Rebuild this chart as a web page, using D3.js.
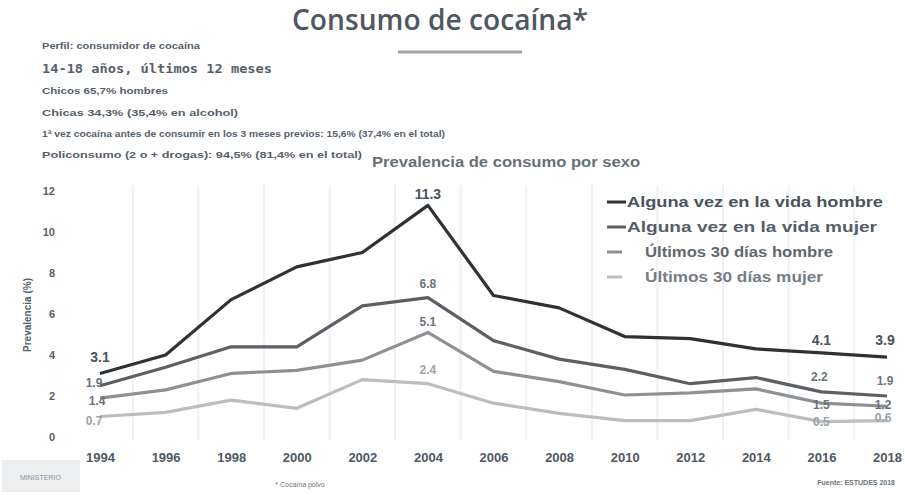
<!DOCTYPE html>
<html><head><meta charset="utf-8">
<script src="https://cdn.jsdelivr.net/npm/d3@7"></script>
<style>body{margin:0;background:#fff}svg{display:block}</style>
</head><body>
<svg id="c" width="905" height="495"></svg>
<script>
const years = [1994,1996,1998,2000,2002,2004,2006,2008,2010,2012,2014,2016,2018];
const seriesNames = ["Alguna vez en la vida hombre","Alguna vez en la vida mujer","Últimos 30 días hombre","Últimos 30 días mujer"];
const vidaHombre = [3.1,4.0,6.7,8.3,9.0,11.3,6.9,6.3,4.9,4.8,4.3,4.1,3.9];
const vidaMujer  = [2.5,3.4,4.4,4.4,6.4,6.8,4.7,3.8,3.3,2.6,2.9,2.2,2.0];
const diasHombre = [1.9,2.3,3.1,3.25,3.75,5.1,3.2,2.7,2.05,2.15,2.35,1.65,1.5];
const diasMujer  = [1.0,1.2,1.8,1.4,2.8,2.6,1.65,1.15,0.8,0.8,1.35,0.75,0.8];
const yTicks = [0,2,4,6,8,10,12];
const pointLabels = [
  {s:0,year:1994,text:"3.1"},{s:1,year:1994,text:"1.9"},{s:2,year:1994,text:"1.4"},{s:3,year:1994,text:"0.7"},
  {s:0,year:2004,text:"11.3"},{s:1,year:2004,text:"6.8"},{s:2,year:2004,text:"5.1"},{s:3,year:2004,text:"2.4"},
  {s:0,year:2016,text:"4.1"},{s:1,year:2016,text:"2.2"},{s:2,year:2016,text:"1.5"},{s:3,year:2016,text:"0.5"},
  {s:0,year:2018,text:"3.9"},{s:1,year:2018,text:"1.9"},{s:2,year:2018,text:"1.2"},{s:3,year:2018,text:"0.6"}
];
const headerLines = ["Perfil: consumidor de cocaína","14-18 años, últimos 12 meses","Chicos 65,7% hombres","Chicas 34,3% (35,4% en alcohol)","1ª vez cocaína antes de consumir en los 3 meses previos: 15,6% (37,4% en el total)","Policonsumo (2 o + drogas): 94,5% (81,4% en el total)"];

const allSeries = [vidaHombre, vidaMujer, diasHombre, diasMujer];
const colors = ["#2e3236","#5b6065","#8d9196","#babdc1"];
const txtCol = "#55606b";

const svg = d3.select("#c");
const defs = svg.append("defs");
defs.append("filter").attr("id","blur").append("feGaussianBlur").attr("stdDeviation",0.7);

const x = d3.scaleLinear().domain([1994,2018]).range([100,887]);
const y = d3.scaleLinear().domain([0,12]).range([437,191]);

// title
svg.append("text").attr("x",440).attr("y",30).attr("text-anchor","middle")
  .attr("font-family","Open Sans, sans-serif").attr("font-size",29).attr("font-weight",600)
  .attr("fill","#4f5862").attr("textLength",296).attr("lengthAdjust","spacingAndGlyphs")
  .text("Consumo de cocaína*");
svg.append("line").attr("x1",398).attr("x2",522).attr("y1",52).attr("y2",52)
  .attr("stroke","#9ea4aa").attr("stroke-width",3);

// header block
const hW = [158,230,126,196,403,320];
const hY = [49,73,94,116,137,158];
headerLines.forEach((t,i)=>{
  svg.append("text").attr("x",42).attr("y",hY[i])
    .attr("font-family", i===1 ? "DejaVu Sans Mono, monospace" : "Liberation Sans, Arial, sans-serif")
    .attr("font-size", i===1 ? 12 : 9.5).attr("font-weight","bold").attr("fill",txtCol)
    .attr("textLength",hW[i]).attr("lengthAdjust","spacingAndGlyphs").text(t);
});

// subtitle
svg.append("text").attr("x",372).attr("y",167).attr("font-family","Liberation Sans, Arial, sans-serif")
  .attr("font-size",14).attr("font-weight","bold").attr("fill","#66707a")
  .attr("textLength",268).attr("lengthAdjust","spacingAndGlyphs").text("Prevalencia de consumo por sexo");

// vertical faint gridlines at boundaries
const g = svg.append("g");
years.slice(0,-1).forEach((yr,i)=>{
  const xm = (x(yr)+x(years[i+1]))/2;
  g.append("line").attr("x1",xm).attr("x2",xm).attr("y1",185).attr("y2",440)
    .attr("stroke","#eef1f4").attr("stroke-width",2);
});

// y axis ticks
const yAxis = d3.axisLeft(y).tickValues(yTicks).tickSize(0).tickFormat(d3.format("d"));
const ya = svg.append("g").attr("transform","translate(58,0)").call(yAxis);
ya.select(".domain").remove();
ya.selectAll("text").attr("font-family","Liberation Sans, Arial, sans-serif").attr("font-size",11)
  .attr("font-weight","bold").attr("fill",txtCol);

svg.append("text").attr("transform","translate(31,315) rotate(-90)").attr("text-anchor","middle")
  .attr("font-family","Liberation Sans, Arial, sans-serif").attr("font-size",10).attr("font-weight","bold")
  .attr("fill",txtCol).text("Prevalencia (%)");

// x axis
const xAxis = d3.axisBottom(x).tickValues(years).tickSize(0).tickFormat(d3.format("d"));
const xa = svg.append("g").attr("transform","translate(0,450)").call(xAxis);
xa.select(".domain").remove();
xa.selectAll("text").attr("font-family","Liberation Sans Narrow, Liberation Sans, Arial, sans-serif").attr("font-size",13)
  .attr("font-weight","bold").attr("fill","#4f5862");

// lines
const line = d3.line().x((d,i)=>x(years[i])).y(d=>y(d)).curve(d3.curveLinear);
const lg = svg.append("g").attr("filter","url(#blur)");
[3,2,1,0].forEach(s=>{
  lg.append("path").datum(allSeries[s]).attr("d",line).attr("fill","none")
    .attr("stroke",colors[s]).attr("stroke-width",3.2).attr("stroke-linejoin","round");
});

// point labels
const lblY = {1994:[357,383,401,421],2004:[194,284,322,370],2016:[340,377,405,422],2018:[340,381,405,418]};
const lblDx = {1994:[0,-6,-3,-6],2004:[0,0,0,0],2016:[0,-2,0,0],2018:[-2,-2,-4,-4]};
pointLabels.forEach(p=>{
  const ly = lblY[p.year][p.s];
  const lx = x(p.year) + lblDx[p.year][p.s];
  svg.append("text").attr("x",lx).attr("y",ly).attr("text-anchor","middle").attr("dy","0.35em")
    .attr("font-family","Liberation Sans, Arial, sans-serif")
    .attr("font-size", p.s===0 ? 14 : 12).attr("font-weight","bold")
    .attr("fill", p.s===0 ? "#4a535c" : (p.s===3 ? "#9aa2aa" : "#6a737c")).text(p.text);
});

// legend
const legY = [202,227,252,277];
const legTxtCol = ["#4a535c","#555e67","#5f6871","#747d86"];
seriesNames.forEach((n,s)=>{
  const short = s>=2;
  svg.append("line").attr("x1",607).attr("x2",short?622:626).attr("y1",legY[s]).attr("y2",legY[s])
    .attr("stroke",colors[s]).attr("stroke-width",3);
  svg.append("text").attr("x",short?645:627).attr("y",legY[s]).attr("dy","0.35em")
    .attr("font-family","Liberation Sans, Arial, sans-serif").attr("font-size",15).attr("font-weight","bold")
    .attr("fill",legTxtCol[s]).attr("textLength",[256,250,188,178][s]).attr("lengthAdjust","spacingAndGlyphs").text(n);
});

// footer
svg.append("rect").attr("x",2).attr("y",460).attr("width",78).attr("height",32).attr("fill","#eceef0");
svg.append("text").attr("x",20).attr("y",480).attr("font-family","Liberation Sans, Arial, sans-serif")
  .attr("font-size",7).attr("fill","#8a939c").text("MINISTERIO");
svg.append("text").attr("x",300).attr("y",487).attr("text-anchor","middle").attr("font-family","Liberation Sans, Arial, sans-serif")
  .attr("font-size",7).attr("fill","#6a737c").text("* Cocaína polvo");
svg.append("text").attr("x",895).attr("y",485).attr("text-anchor","end").attr("font-family","Liberation Sans, Arial, sans-serif")
  .attr("font-size",7).attr("font-weight","bold").attr("fill","#6a737c").text("Fuente: ESTUDES 2018");
</script>
</body></html>
